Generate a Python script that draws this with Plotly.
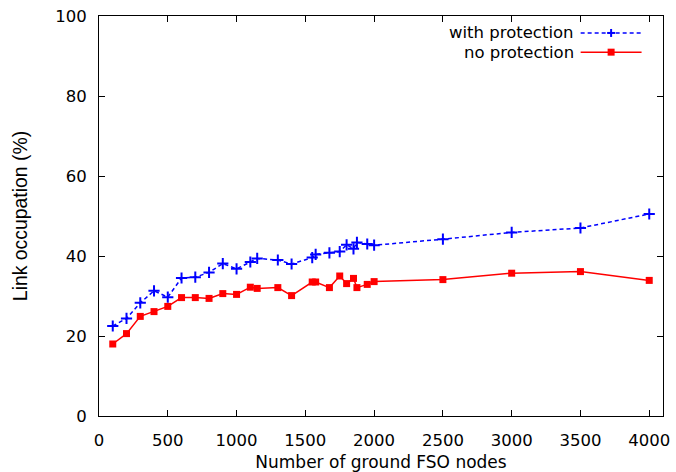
import plotly.graph_objects as go

nodes_prot = [100, 200, 300, 400, 500, 600, 700, 800, 900, 1000, 1100, 1150, 1300, 1400,
              1550, 1575, 1675, 1750, 1800, 1850, 1875, 1950, 2000, 2500, 3000, 3500, 4000]
with_protection = [22.5, 24.4, 28.3, 31.3, 29.7, 34.5, 34.7, 35.9, 38.1, 36.8, 38.5, 39.4, 39.0, 38.0,
                   39.6, 40.4, 40.8, 41.1, 42.8, 41.8, 43.4, 43.0, 42.7, 44.2, 45.9, 47.0, 50.5]
no_protection = [18.0, 20.6, 24.9, 26.1, 27.4, 29.6, 29.6, 29.4, 30.6, 30.4, 32.2, 31.9, 32.1, 30.1,
                 33.5, 33.5, 32.1, 35.0, 33.1, 34.4, 32.1, 32.9, 33.6, 34.1, 35.7, 36.1, 33.9]

x_ticks = [0, 500, 1000, 1500, 2000, 2500, 3000, 3500, 4000]
y_ticks = [0, 20, 40, 60, 80, 100]

BLUE = "#0000ff"
RED = "#ff0000"
FONT = "DejaVu Sans, sans-serif"
FONT_Y = "Liberation Sans, Arial, sans-serif"
FS = 16.5

fig = go.Figure()
fig.add_trace(go.Scatter(
    x=nodes_prot, y=with_protection, mode="lines+markers", name="with protection",
    line=dict(color=BLUE, width=1.5, dash="4px,3px"),
    marker=dict(symbol="cross-thin", size=8, line=dict(color=BLUE, width=2)),
    showlegend=False))
fig.add_trace(go.Scatter(
    x=nodes_prot, y=no_protection, mode="lines+markers", name="no protection",
    line=dict(color=RED, width=1.5),
    marker=dict(symbol="square", size=7, color=RED),
    showlegend=False))

axis_common = dict(showline=True, linecolor="black", linewidth=1, mirror="allticks",
                   ticks="inside", ticklen=6, tickwidth=1, tickcolor="black",
                   showgrid=False, zeroline=False, automargin=False,
                   tickfont=dict(family=FONT, size=FS, color="black"))
fig.update_xaxes(range=[0, 4100], tickvals=x_ticks, ticklabelstandoff=9,
                 title=dict(text="Number of ground FSO nodes", font=dict(family=FONT, size=17, color="black"),
                            standoff=12),
                 **axis_common)
fig.update_yaxes(range=[0, 100], tickvals=y_ticks, ticklabelstandoff=8,
                 title=dict(text="Link occupation (%)", font=dict(family=FONT_Y, size=19.4, color="black"),
                            standoff=22),
                 **axis_common)

# gnuplot-style legend (text right-aligned, sample on the right)
leg = [("with protection", 0.9576, BLUE, "dash"), ("no protection", 0.9096, RED, "solid")]
shapes = []
annotations = []
for text, yp, col, dash in leg:
    annotations.append(dict(text=text, x=0.8454, y=yp, xref="paper", yref="paper",
                            xanchor="right", yanchor="middle", showarrow=False,
                            font=dict(family=FONT, size=FS, color="black")))
    shapes.append(dict(type="line", xref="paper", yref="paper", x0=0.854, x1=0.962, y0=yp, y1=yp,
                       line=dict(color=col, width=1.5, dash="4px,3px" if dash == "dash" else "solid")))
xm = 0.908
dx = 4 / 564.8
dy = 4 / 400.5
yp = leg[0][1]
shapes.append(dict(type="line", xref="paper", yref="paper", x0=xm - dx, x1=xm + dx, y0=yp, y1=yp,
                   line=dict(color=BLUE, width=2)))
shapes.append(dict(type="line", xref="paper", yref="paper", x0=xm, x1=xm, y0=yp - dy, y1=yp + dy,
                   line=dict(color=BLUE, width=2)))
sx = 3.5 / 564.8
sy = 3.5 / 400.5
yp = leg[1][1]
shapes.append(dict(type="rect", xref="paper", yref="paper", x0=xm - sx, x1=xm + sx, y0=yp - sy, y1=yp + sy,
                   fillcolor=RED, line=dict(width=0)))

fig.update_layout(
    width=676, height=472,
    margin=dict(l=98.5, r=12.7, t=15.5, b=56, autoexpand=False),
    paper_bgcolor="white", plot_bgcolor="white",
    font=dict(family=FONT, size=FS, color="black"),
    shapes=shapes, annotations=annotations,
)
fig.write_html("out.html", config={"displayModeBar": False},
               post_script="document.body.style.margin='0';")
